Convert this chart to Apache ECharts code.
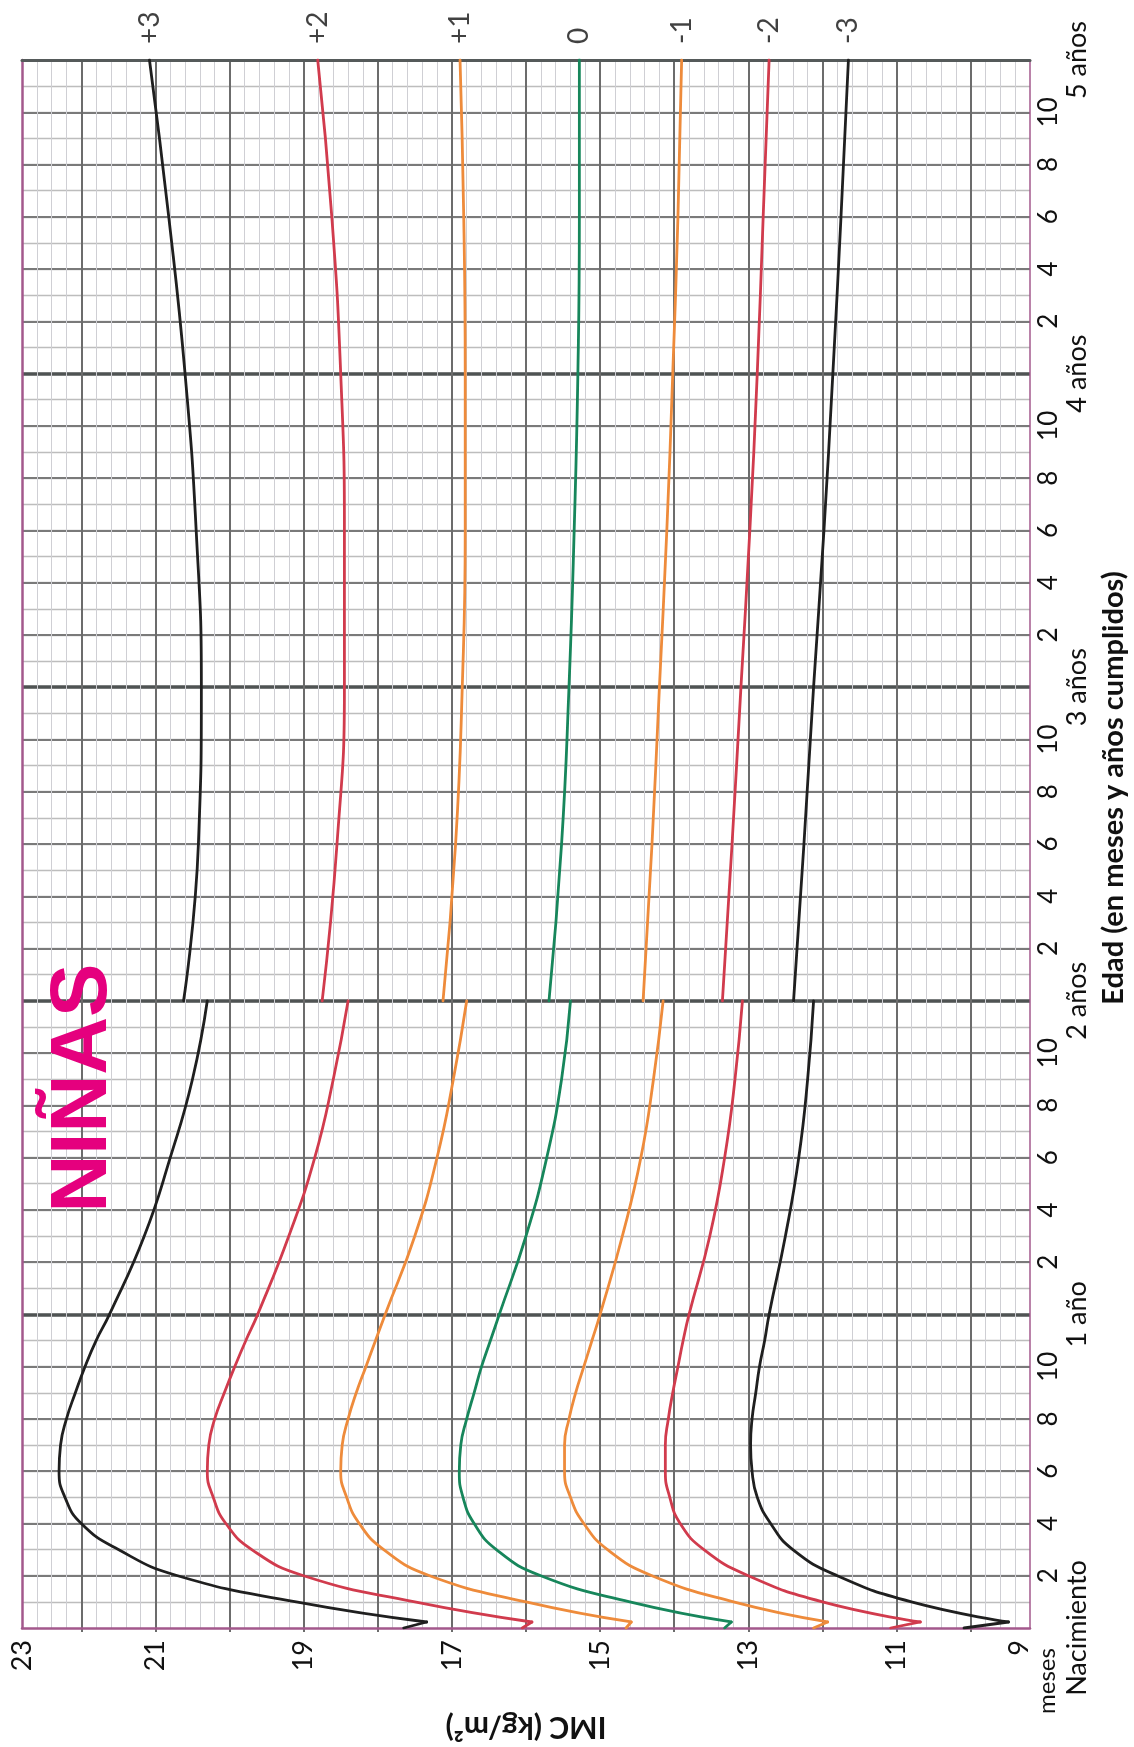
<!DOCTYPE html>
<html><head><meta charset="utf-8">
<script src="https://cdn.jsdelivr.net/npm/echarts@6/dist/echarts.min.js"></script>
<style>html,body{margin:0;padding:0;background:#fff}#chart{width:1134px;height:1747px}</style>
</head><body><div id="chart"></div>
<script>
// ---- data (BMI kg/m2 by age in months) ----
const zLabels = ['+3', '+2', '+1', '0', '-1', '-2', '-3'];
const lineColors = ['#1f1f1f', '#d13b4d', '#ee8b3b', '#17865b', '#ee8b3b', '#d13b4d', '#1f1f1f'];
const birthValues = [17.65, 16.05, 14.65, 13.32, 12.12, 11.08, 10.09];
const kinkAge = 0.23;
const kinkValues = [17.34, 15.92, 14.58, 13.23, 11.93, 10.68, 9.49];
const infantAges = [1, 2, 3, 4, 5, 6, 7, 8, 9, 10, 11, 12, 15, 18, 21, 24];
const infantP3 = [19.1, 20.7, 21.5, 22.0, 22.22, 22.3, 22.28, 22.2, 22.08, 21.95, 21.8, 21.62, 21.15, 20.8, 20.5, 20.3];
const infantP2 = [17.5, 19.0, 19.7, 20.05, 20.22, 20.3, 20.28, 20.2, 20.07, 19.93, 19.78, 19.62, 19.2, 18.85, 18.6, 18.4];
const infantP1 = [16.0, 17.3, 17.92, 18.25, 18.42, 18.5, 18.48, 18.4, 18.29, 18.16, 18.03, 17.9, 17.5, 17.2, 16.98, 16.8];
const infantM0 = [14.6, 15.8, 16.4, 16.7, 16.85, 16.9, 16.88, 16.8, 16.7, 16.6, 16.48, 16.36, 16.0, 15.72, 15.52, 15.4];
const infantN1 = [13.2, 14.3, 14.9, 15.22, 15.4, 15.48, 15.48, 15.42, 15.33, 15.22, 15.11, 15.0, 14.7, 14.45, 14.28, 14.15];
const infantN2 = [12.0, 13.0, 13.6, 13.92, 14.06, 14.12, 14.12, 14.08, 14.02, 13.95, 13.88, 13.8, 13.52, 13.32, 13.18, 13.08];
const infantN3 = [10.8, 11.8, 12.4, 12.7, 12.88, 12.95, 12.97, 12.95, 12.9, 12.85, 12.78, 12.72, 12.5, 12.32, 12.2, 12.12];
const childAges = [24, 30, 36, 42, 48, 54, 60];
const childP3 = [20.62, 20.42, 20.38, 20.45, 20.6, 20.82, 21.08];
const childP2 = [18.75, 18.55, 18.45, 18.45, 18.5, 18.62, 18.81];
const childP1 = [17.12, 16.95, 16.86, 16.82, 16.82, 16.84, 16.89];
const childM0 = [15.69, 15.52, 15.42, 15.35, 15.3, 15.28, 15.28];
const childN1 = [14.42, 14.3, 14.2, 14.1, 14.02, 13.95, 13.9];
const childN2 = [13.35, 13.22, 13.1, 12.98, 12.88, 12.8, 12.72];
const childN3 = [12.39, 12.25, 12.12, 11.98, 11.86, 11.75, 11.65];
const bmiTickLabels = ['23', '21', '19', '17', '15', '13', '11', '9'];
const bmiLabelPositions = [22.8, 21, 19, 17, 15, 13, 11, 9.35];
const yearLabels = ['Nacimiento', '1 año', '2 años', '3 años', '4 años', '5 años'];

const infantSets = [infantP3, infantP2, infantP1, infantM0, infantN1, infantN2, infantN3];
const childSets = [childP3, childP2, childP1, childM0, childN1, childN2, childN3];

const FONT = 'Lato';
const FRAME = '#a3588c';
const BMI_MIN = 9.2, BMI_MAX = 22.8;
const G_LEFT = 22, G_RIGHT_X = 1030, G_TOP = 60, G_BOTTOM_Y = 1632;
const pxPerUnit = (G_RIGHT_X - G_LEFT) / (BMI_MAX - BMI_MIN);

const series = [];
zLabels.forEach((z, i) => {
  const common = {
    type: 'line', xAxisIndex: 0, yAxisIndex: 0, symbol: 'none', silent: true,
    lineStyle: { color: lineColors[i], width: 2.8, cap: 'round', join: 'round' }, z: 5
  };
  series.push(Object.assign({}, common, {
    name: z + ' nac', smooth: false,
    data: [[birthValues[i], 0], [kinkValues[i], kinkAge]]
  }));
  series.push(Object.assign({}, common, {
    name: z + ' 0-2', smooth: 0.5,
    data: [[kinkValues[i], kinkAge]].concat(infantAges.map((a, j) => [infantSets[i][j], a]))
  }));
  series.push(Object.assign({}, common, {
    name: z + ' 2-5', smooth: 0.5,
    data: childAges.map((a, j) => [childSets[i][j], a])
  }));
});
series.push({
  type: 'scatter', xAxisIndex: 0, yAxisIndex: 0, symbolSize: 0, clip: false, silent: true,
  data: childSets.map(s => [s[s.length - 1], childAges[childAges.length - 1]]),
  label: {
    show: true, position: 'top', distance: 16, rotate: 90, align: 'left', verticalAlign: 'middle',
    formatter: p => zLabels[p.dataIndex], fontFamily: FONT, fontSize: 28, color: '#111'
  }
});

const option = {
  animation: false,
  backgroundColor: '#ffffff',
  grid: [
    { left: G_LEFT, top: G_TOP, width: G_RIGHT_X - G_LEFT, height: G_BOTTOM_Y - G_TOP },
    { left: G_LEFT - (BMI_MIN - 9) * pxPerUnit, top: G_TOP, width: 14 * pxPerUnit, height: G_BOTTOM_Y - G_TOP }
  ],
  xAxis: [
    { // main BMI axis, minor lines every 0.2
      type: 'value', gridIndex: 0, min: BMI_MIN, max: BMI_MAX, interval: 0.2, inverse: true, position: 'bottom',
      axisLine: { show: true, onZero: false, lineStyle: { color: FRAME, width: 2.5 } },
      axisTick: { show: false },
      axisLabel: {
        show: true, customValues: bmiLabelPositions, rotate: 90, margin: 12,
        formatter: v => bmiTickLabels[bmiLabelPositions.indexOf(v)] || String(Math.round(v)),
        fontFamily: FONT, fontSize: 27, color: '#111'
      },
      splitLine: { show: true, showMinLine: false, showMaxLine: false, lineStyle: { color: '#cfcfd4', width: 1 } },
      name: 'IMC (kg/m²)', nameLocation: 'middle', nameGap: 84, nameRotate: 180,
      nameTextStyle: { fontFamily: FONT, fontWeight: 'bold', fontSize: 30, color: '#111' }
    },
    { // major lines every 1 BMI
      type: 'value', gridIndex: 1, min: 9, max: 23, interval: 1, inverse: true,
      axisLine: { show: false, onZero: false }, axisTick: { show: false }, axisLabel: { show: false },
      splitLine: { show: true, showMinLine: false, showMaxLine: false, lineStyle: { color: '#6c6c6c', width: 2 } }
    },
    { // top frame
      type: 'value', gridIndex: 0, min: BMI_MIN, max: BMI_MAX, inverse: true, position: 'top',
      axisLine: { show: true, onZero: false, lineStyle: { color: '#555a5a', width: 3 } },
      axisTick: { show: false }, axisLabel: { show: false }, splitLine: { show: false }
    }
  ],
  yAxis: [
    { // age axis, monthly lines + month labels
      type: 'value', gridIndex: 0, min: 0, max: 60, interval: 1, position: 'right',
      axisLine: { show: true, onZero: false, lineStyle: { color: FRAME, width: 1.5 } },
      axisTick: { show: false },
      axisLabel: {
        show: true, rotate: 90, margin: 6, showMinLabel: true, showMaxLabel: true,
        formatter: v => (v % 2 === 0 && v % 12 !== 0) ? String(v % 12) : '',
        fontFamily: FONT, fontSize: 26, color: '#111'
      },
      splitLine: { show: true, showMinLine: false, showMaxLine: false, lineStyle: { color: '#bdbdbd', width: 1.3 } }
    },
    { // even-month lines
      type: 'value', gridIndex: 0, min: 0, max: 60, interval: 2, position: 'right',
      axisLine: { show: false, onZero: false }, axisTick: { show: false }, axisLabel: { show: false },
      splitLine: { show: true, showMinLine: false, showMaxLine: false, lineStyle: { color: '#7a7a7a', width: 1.8 } }
    },
    { // year lines + year labels
      type: 'value', gridIndex: 0, min: 0, max: 60, interval: 12, position: 'right', offset: 30,
      axisLine: { show: false, onZero: false }, axisTick: { show: false },
      axisLabel: {
        show: true, rotate: 90, margin: 4, showMinLabel: true, showMaxLabel: true,
        formatter: v => yearLabels[v / 12],
        fontFamily: FONT, fontSize: 27, color: '#111'
      },
      splitLine: { show: true, showMinLine: false, showMaxLine: false, lineStyle: { color: '#4f5353', width: 3.5 } }
    },
    { // left frame
      type: 'value', gridIndex: 0, min: 0, max: 60, position: 'left',
      axisLine: { show: true, onZero: false, lineStyle: { color: FRAME, width: 2.5 } },
      axisTick: { show: false }, axisLabel: { show: false }, splitLine: { show: false }
    },
    { // helper for grid 1
      type: 'value', gridIndex: 1, min: 0, max: 60, show: false, splitLine: { show: false }
    }
  ],
  graphic: [
    { type: 'text', x: 84, y: 1088, rotation: Math.PI / 2, z: 10,
      style: { text: 'NIÑAS', fill: '#e5007e', font: 'bold 80px "Liberation Sans"', align: 'center', verticalAlign: 'middle' } },
    { type: 'text', x: 1114, y: 788, rotation: Math.PI / 2, z: 10,
      style: { text: 'Edad (en meses y años cumplidos)', fill: '#111', font: 'bold 29px Lato', align: 'center', verticalAlign: 'middle' } },
    { type: 'text', x: 1047, y: 1681, rotation: Math.PI / 2, z: 10,
      style: { text: 'meses', fill: '#111', font: '24px Lato', align: 'center', verticalAlign: 'middle' } }
  ],
  series: series
};

const chart = echarts.init(document.getElementById('chart'), null, { renderer: 'canvas' });
chart.setOption(option);
</script></body></html>
